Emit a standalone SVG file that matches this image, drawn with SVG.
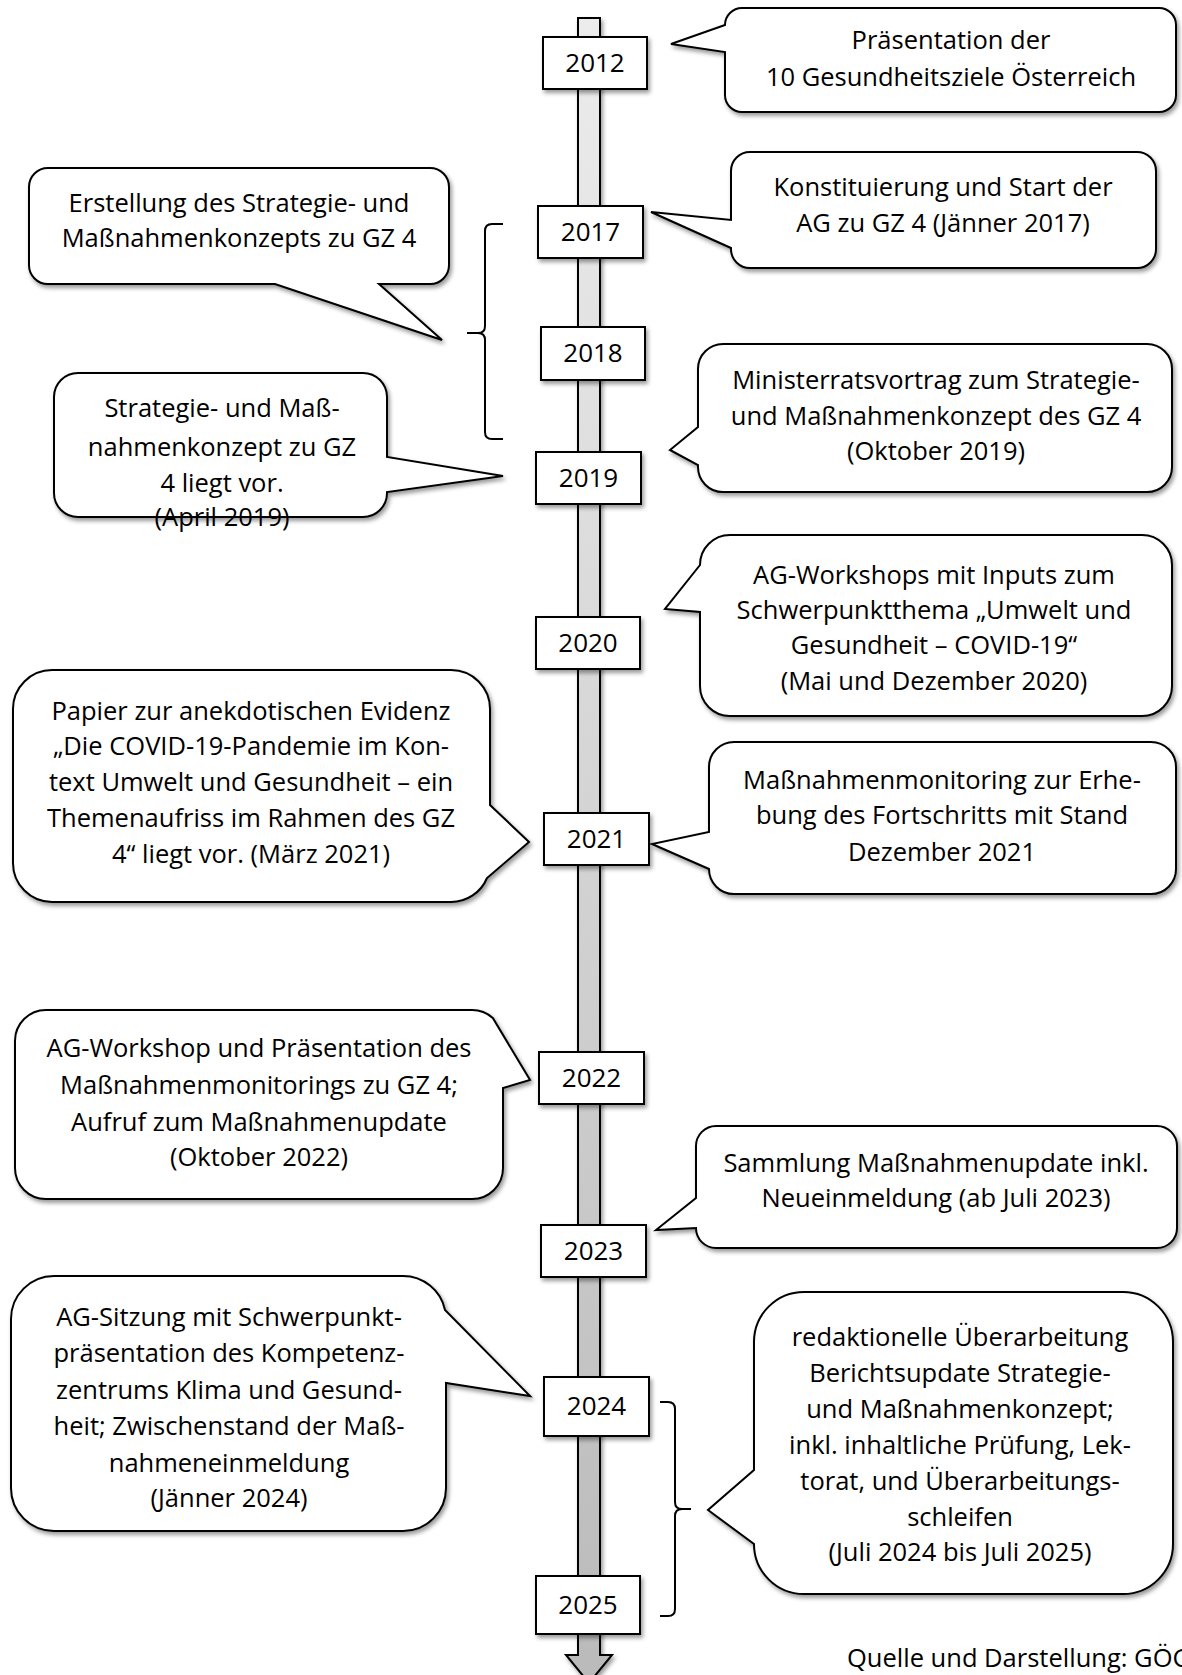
<svg xmlns="http://www.w3.org/2000/svg" width="1182" height="1675" viewBox="0 0 1182 1675">
<defs>
<linearGradient id="barGrad" x1="0" y1="0" x2="0" y2="1">
<stop offset="0" stop-color="#ececec"/>
<stop offset="1" stop-color="#bababa"/>
</linearGradient>
<filter id="sh" x="-10%" y="-10%" width="130%" height="130%">
<feDropShadow dx="2" dy="3" stdDeviation="2" flood-color="#000" flood-opacity="0.4"/>
</filter>
</defs>
<style>
.bub{fill:#fff;stroke:#000;stroke-width:2;stroke-linejoin:miter;filter:url(#sh)}
.yr{fill:#fff;stroke:#000;stroke-width:2;filter:url(#sh)}
.brace{fill:none;stroke:#000;stroke-width:2}
text{font-family:"Open Sans","Liberation Sans",sans-serif;font-size:25.5px;fill:#000}
.c{text-anchor:middle}
.y{font-size:26px}
</style>
<rect width="1182" height="1675" fill="#fff"/>

<g id="connectors">
<path id="timeline" d="M578,18 H600 V1655 H612 L589,1683 L566,1655 H578 Z" fill="url(#barGrad)" stroke="#000" stroke-width="2" filter="url(#sh)"/>
<path id="brace-2017-2019" class="brace" d="M503,224 H492 Q485,224 485,231 V326 Q485,333 478,333 H467 M478,333 Q485,333 485,340 V432 Q485,439 492,439 H503"/>
<path id="brace-2024-2025" class="brace" d="M660,1402 H668 Q675,1402 675,1409 V1502 Q675,1509 682,1509 H691 M682,1509 Q675,1509 675,1516 V1609 Q675,1616 668,1616 H660"/>
</g>

<g id="y2012"><rect class="yr" x="543" y="37" width="104" height="52"/><text class="c y" x="595" y="72">2012</text></g>
<g id="y2017"><rect class="yr" x="538" y="206" width="105" height="52"/><text class="c y" x="590.5" y="241">2017</text></g>
<g id="y2018"><rect class="yr" x="541" y="327" width="104" height="53"/><text class="c y" x="593" y="362">2018</text></g>
<g id="y2019"><rect class="yr" x="536" y="452" width="105" height="52"/><text class="c y" x="588.5" y="487">2019</text></g>
<g id="y2020"><rect class="yr" x="536" y="617" width="104" height="52"/><text class="c y" x="588" y="652">2020</text></g>
<g id="y2021"><rect class="yr" x="544" y="813" width="105" height="52"/><text class="c y" x="596.5" y="848">2021</text></g>
<g id="y2022"><rect class="yr" x="539" y="1052" width="105" height="52"/><text class="c y" x="591.5" y="1087">2022</text></g>
<g id="y2023"><rect class="yr" x="541" y="1225" width="105" height="52"/><text class="c y" x="593.5" y="1260">2023</text></g>
<g id="y2024"><rect class="yr" x="544" y="1377" width="105" height="59"/><text class="c y" x="596.5" y="1415">2024</text></g>
<g id="y2025"><rect class="yr" x="536" y="1576" width="104" height="58"/><text class="c y" x="588" y="1614">2025</text></g>

<g id="b2012">
<path class="bub" d="M742,8 H1159 A17,17 0 0 1 1176,25 V95 A17,17 0 0 1 1159,112 H742 A17,17 0 0 1 725,95 V52 L671,44 L725,25 A17,17 0 0 1 742,8 Z"/>
<text class="c" x="951" y="49">Präsentation der</text>
<text class="c" x="951" y="86">10 Gesundheitsziele Österreich</text>
</g>

<g id="b-erstellung">
<path class="bub" d="M48,168 H430 A19,19 0 0 1 449,187 V265 A19,19 0 0 1 430,284 H379 L442,340 L275,284 H48 A19,19 0 0 1 29,265 V187 A19,19 0 0 1 48,168 Z"/>
<text class="c" x="239" y="212">Erstellung des Strategie- und</text>
<text class="c" x="239" y="247">Maßnahmenkonzepts zu GZ 4</text>
</g>

<g id="b2017">
<path class="bub" d="M750,152 H1137 A19,19 0 0 1 1156,171 V249 A19,19 0 0 1 1137,268 H750 A19,19 0 0 1 731,249 V248 L651,212 L731,220 V171 A19,19 0 0 1 750,152 Z"/>
<text class="c" x="943" y="196">Konstituierung und Start der</text>
<text class="c" x="943" y="232">AG zu GZ 4 (Jänner 2017)</text>
</g>

<g id="b2019-april">
<path class="bub" d="M78,373 H363 A24,24 0 0 1 387,397 V457 L503,476 L387,492 V493 A24,24 0 0 1 363,517 H78 A24,24 0 0 1 54,493 V397 A24,24 0 0 1 78,373 Z"/>
<text class="c" x="222" y="417">Strategie- und Maß-</text>
<text class="c" x="222" y="456">nahmenkonzept zu GZ</text>
<text class="c" x="222" y="492">4 liegt vor.</text>
<text class="c" x="222" y="526">(April 2019)</text>
</g>

<g id="b2019-oktober">
<path class="bub" d="M723,344 H1147 A25,25 0 0 1 1172,369 V467 A25,25 0 0 1 1147,492 H723 A25,25 0 0 1 698,467 V465 L670,450 L698,427 V369 A25,25 0 0 1 723,344 Z"/>
<text class="c" x="936" y="389">Ministerratsvortrag zum Strategie-</text>
<text class="c" x="936" y="425">und Maßnahmenkonzept des GZ 4</text>
<text class="c" x="936" y="460">(Oktober 2019)</text>
</g>

<g id="b2020">
<path class="bub" d="M730,535 H1142 A30,30 0 0 1 1172,565 V686 A30,30 0 0 1 1142,716 H730 A30,30 0 0 1 700,686 V612 L665,609 L700,565 A30,30 0 0 1 730,535 Z"/>
<text class="c" x="934" y="584">AG-Workshops mit Inputs zum</text>
<text class="c" x="934" y="619">Schwerpunktthema „Umwelt und</text>
<text class="c" x="934" y="654">Gesundheit – COVID-19“</text>
<text class="c" x="934" y="690">(Mai und Dezember 2020)</text>
</g>

<g id="b2021-papier">
<path class="bub" d="M52,670 H451 A39,39 0 0 1 490,709 V805 L529,842 L487,878 A39,39 0 0 1 451,902 H52 A39,39 0 0 1 13,863 V709 A39,39 0 0 1 52,670 Z"/>
<text class="c" x="251" y="720">Papier zur anekdotischen Evidenz</text>
<text class="c" x="251" y="755">„Die COVID-19-Pandemie im Kon-</text>
<text class="c" x="251" y="791">text Umwelt und Gesundheit – ein</text>
<text class="c" x="251" y="827">Themenaufriss im Rahmen des GZ</text>
<text class="c" x="251" y="863">4“ liegt vor. (März 2021)</text>
</g>

<g id="b2021-monitoring">
<path class="bub" d="M734,742 H1151 A25,25 0 0 1 1176,767 V869 A25,25 0 0 1 1151,894 H734 A25,25 0 0 1 709,869 L652,844 L709,832 V767 A25,25 0 0 1 734,742 Z"/>
<text class="c" x="942" y="789">Maßnahmenmonitoring zur Erhe-</text>
<text class="c" x="942" y="824">bung des Fortschritts mit Stand</text>
<text class="c" x="942" y="861">Dezember 2021</text>
</g>

<g id="b2022">
<path class="bub" d="M46,1010 H472 A31,31 0 0 1 492.8,1018 L530,1080 L503,1088 V1168 A31,31 0 0 1 472,1199 H46 A31,31 0 0 1 15,1168 V1041 A31,31 0 0 1 46,1010 Z"/>
<text class="c" x="259" y="1057">AG-Workshop und Präsentation des</text>
<text class="c" x="259" y="1094">Maßnahmenmonitorings zu GZ 4;</text>
<text class="c" x="259" y="1131">Aufruf zum Maßnahmenupdate</text>
<text class="c" x="259" y="1166">(Oktober 2022)</text>
</g>

<g id="b2023">
<path class="bub" d="M716,1126 H1157 A20,20 0 0 1 1177,1146 V1228 A20,20 0 0 1 1157,1248 H716 A20,20 0 0 1 696,1228 L656,1230 L696,1198 V1146 A20,20 0 0 1 716,1126 Z"/>
<text class="c" x="936" y="1172">Sammlung Maßnahmenupdate inkl.</text>
<text class="c" x="936" y="1207">Neueinmeldung (ab Juli 2023)</text>
</g>

<g id="b2024">
<path class="bub" d="M54,1276 H403 A43,43 0 0 1 445,1310 L530,1396 L446,1383 V1488 A43,43 0 0 1 403,1531 H54 A43,43 0 0 1 11,1488 V1319 A43,43 0 0 1 54,1276 Z"/>
<text class="c" x="229" y="1326">AG-Sitzung mit Schwerpunkt-</text>
<text class="c" x="229" y="1362">präsentation des Kompetenz-</text>
<text class="c" x="229" y="1399">zentrums Klima und Gesund-</text>
<text class="c" x="229" y="1435">heit; Zwischenstand der Maß-</text>
<text class="c" x="229" y="1472">nahmeneinmeldung</text>
<text class="c" x="229" y="1507">(Jänner 2024)</text>
</g>

<g id="b2024-2025">
<path class="bub" d="M804,1292 H1123 A50,50 0 0 1 1173,1342 V1544 A50,50 0 0 1 1123,1594 H804 A50,50 0 0 1 754,1544 L708,1510 L754,1470 V1342 A50,50 0 0 1 804,1292 Z"/>
<text class="c" x="960" y="1346">redaktionelle Überarbeitung</text>
<text class="c" x="960" y="1382">Berichtsupdate Strategie-</text>
<text class="c" x="960" y="1418">und Maßnahmenkonzept;</text>
<text class="c" x="960" y="1454">inkl. inhaltliche Prüfung, Lek-</text>
<text class="c" x="960" y="1490">torat, und Überarbeitungs-</text>
<text class="c" x="960" y="1526">schleifen</text>
<text class="c" x="960" y="1561">(Juli 2024 bis Juli 2025)</text>
</g>

<g id="source">
<text x="847" y="1667" font-size="24">Quelle und Darstellung: GÖG</text>
</g>
</svg>
